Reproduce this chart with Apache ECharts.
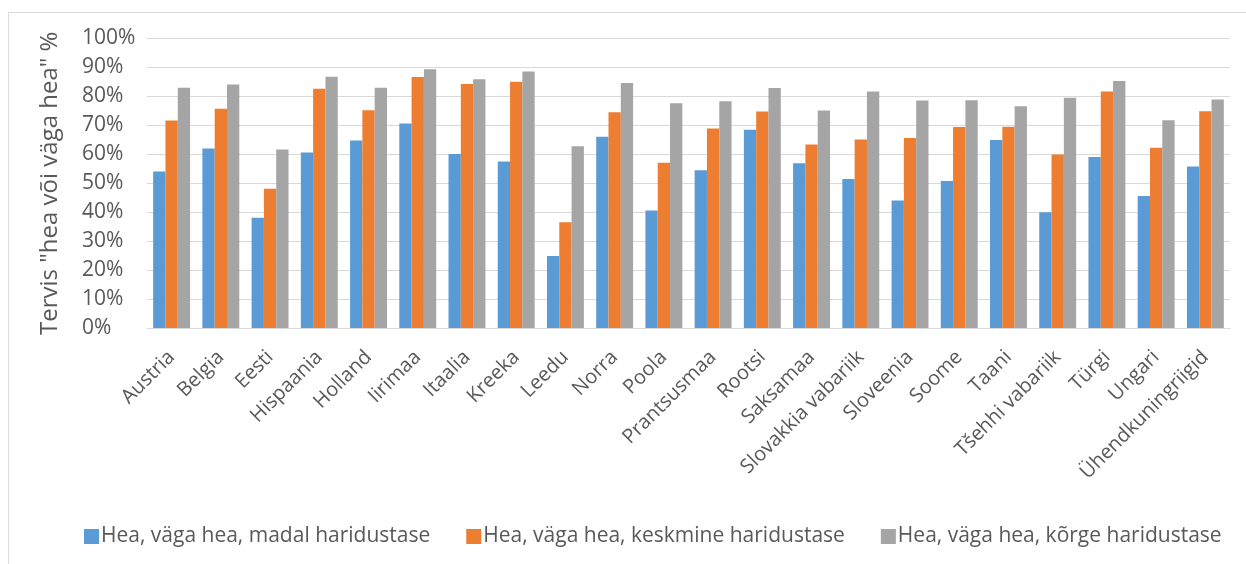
<!DOCTYPE html>
<html>
<head>
<meta charset="utf-8">
<script src="https://cdn.jsdelivr.net/npm/echarts@6/dist/echarts.min.js"></script>
<style>
  html, body { margin: 0; padding: 0; background: #fff; }
  #chart { width: 1246px; height: 564px; }
</style>
</head>
<body>
<div id="chart"></div>
<script>
// Countries along the x axis
const countries = [
  'Austria', 'Belgia', 'Eesti', 'Hispaania', 'Holland', 'Iirimaa', 'Itaalia',
  'Kreeka', 'Leedu', 'Norra', 'Poola', 'Prantsusmaa', 'Rootsi', 'Saksamaa',
  'Slovakkia vabariik', 'Sloveenia', 'Soome', 'Taani', 'Tšehhi vabariik',
  'Türgi', 'Ungari', 'Ühendkuningriigid'
];

// Share (%) reporting good or very good health, by education level
const lowEdu = [54.1, 62.0, 38.1, 60.6, 64.8, 70.6, 60.1, 57.5, 24.9, 66.1, 40.6,
  54.5, 68.5, 56.9, 51.5, 44.0, 50.8, 64.9, 40.0, 59.1, 45.6, 55.8];
const midEdu = [71.7, 75.7, 48.1, 82.6, 75.2, 86.7, 84.3, 85.1, 36.5, 74.5, 57.1,
  68.9, 74.8, 63.4, 65.1, 65.6, 69.4, 69.5, 59.9, 81.7, 62.3, 74.9];
const highEdu = [83.0, 84.1, 61.7, 86.8, 83.0, 89.4, 85.9, 88.6, 62.8, 84.6, 77.6,
  78.3, 82.9, 75.1, 81.7, 78.6, 78.7, 76.6, 79.5, 85.3, 71.8, 78.9];

const seriesNames = [
  'Hea, väga hea, madal haridustase',
  'Hea, väga hea, keskmine haridustase',
  'Hea, väga hea, kõrge haridustase'
];
const seriesColors = ['#5B9BD5', '#ED7D31', '#A5A5A5'];

const yTicks = { min: 0, max: 100, interval: 10 };
const yAxisTitle = 'Tervis "hea või väga hea" %';

const FONT = '"Open Sans", "DejaVu Sans", sans-serif';
const TEXT = '#595959';

const chart = echarts.init(document.getElementById('chart'), null, { renderer: 'canvas' });

const values = [lowEdu, midEdu, highEdu];

chart.setOption({
  animation: false,
  backgroundColor: '#ffffff',
  textStyle: { fontFamily: FONT, color: TEXT },
  graphic: [{
    type: 'rect',
    shape: { x: 8.5, y: 12.5, width: 1300, height: 600 },
    style: { fill: 'none', stroke: '#d9d9d9', lineWidth: 1 },
    silent: true,
    z: -10
  }],
  grid: { left: 147, right: 16, top: 38.5, bottom: 236, containLabel: false },
  legend: {
    top: 521,
    left: 79,
    itemWidth: 15,
    itemHeight: 15,
    itemGap: 36,
    icon: 'rect',
    textStyle: { fontFamily: FONT, fontSize: 21, color: TEXT, padding: [0, 0, 0, -3] },
    data: seriesNames
  },
  xAxis: {
    type: 'category',
    data: countries,
    axisLine: { show: true, lineStyle: { color: '#d9d9d9', width: 1 } },
    axisTick: { show: false },
    axisLabel: {
      interval: 0,
      rotate: 45,
      margin: 26,
      fontFamily: FONT,
      fontSize: 20,
      color: TEXT
    }
  },
  yAxis: {
    type: 'value',
    min: yTicks.min,
    max: yTicks.max,
    interval: yTicks.interval,
    name: yAxisTitle,
    nameLocation: 'middle',
    nameGap: 85,
    nameRotate: 90,
    nameTextStyle: { fontFamily: FONT, fontSize: 24, color: TEXT },
    axisLine: { show: false },
    axisTick: { show: false },
    splitLine: { lineStyle: { color: '#d9d9d9', width: 1 } },
    axisLabel: {
      formatter: '{value}%',
      fontFamily: FONT,
      fontSize: 21,
      color: TEXT,
      align: 'left',
      margin: 65
    }
  },
  series: seriesNames.map((name, i) => ({
    name,
    type: 'bar',
    data: values[i],
    barGap: '0%',
    barCategoryGap: '25%',
    itemStyle: { color: seriesColors[i] }
  }))
});
</script>
</body>
</html>
